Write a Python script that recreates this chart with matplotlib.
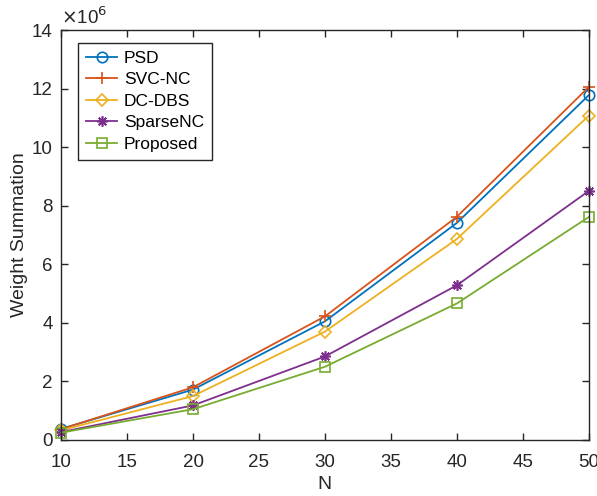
import matplotlib
matplotlib.use('Agg')
import matplotlib.pyplot as plt

plt.rcParams['font.family'] = ['Liberation Sans', 'DejaVu Sans']

N = [10, 20, 30, 40, 50]
psd = [0.38, 1.72, 4.05, 7.41, 11.77]
svc_nc = [0.37, 1.80, 4.22, 7.62, 12.05]
dc_dbs = [0.33, 1.50, 3.70, 6.86, 11.07]
sparse_nc = [0.27, 1.18, 2.85, 5.28, 8.50]
proposed = [0.25, 1.05, 2.50, 4.66, 7.61]

series = [
    ('PSD', psd, '#0072BD', 'o', 7.5),
    ('SVC-NC', svc_nc, '#D95319', '+', 8.5),
    ('DC-DBS', dc_dbs, '#EDB120', 'D', 6),
    ('SparseNC', sparse_nc, '#7E2F8E', (8, 2, 0), 7.5),
    ('Proposed', proposed, '#77AC30', 's', 6.5),
]

dark = '#262626'

fig = plt.figure(figsize=(5.97, 4.96), dpi=100)
ax = fig.add_axes([0.1025, 0.113, 0.8835, 0.8265])

for name, vals, col, mk, ms in series:
    ax.plot(N, vals, color=col, marker=mk, markerfacecolor='none',
            markeredgecolor=col, markersize=ms, markeredgewidth=1.2,
            linewidth=1.3, label=name, clip_on=False)

ax.set_xlim(10, 50)
ax.set_ylim(0, 14)
ax.set_xticks(range(10, 51, 5))
ax.set_yticks(range(0, 15, 2))
ax.tick_params(direction='in', top=True, right=True, labelsize=13.5,
               length=5, width=1, color=dark, labelcolor=dark)
ax.tick_params(axis='x', pad=10)
ax.tick_params(axis='y', pad=6)
for s in ax.spines.values():
    s.set_linewidth(1)
    s.set_color(dark)
ax.set_xlabel('N', fontsize=14, color=dark, labelpad=4)
ax.set_ylabel('Weight Summation', fontsize=14, color=dark, labelpad=3)
ax.text(0.0, 1.006, r'$\times$10$^6$', transform=ax.transAxes, fontsize=13.5,
        ha='left', va='bottom', color=dark)

leg = ax.legend(loc='upper left', bbox_to_anchor=(0.032, 0.968), fontsize=12.5,
                fancybox=False, edgecolor=dark, framealpha=1,
                handlelength=1.8, handletextpad=0.4, borderpad=0.45,
                labelspacing=0.36, borderaxespad=0)
leg.get_frame().set_linewidth(1)

fig.savefig('out.png', dpi=100)
